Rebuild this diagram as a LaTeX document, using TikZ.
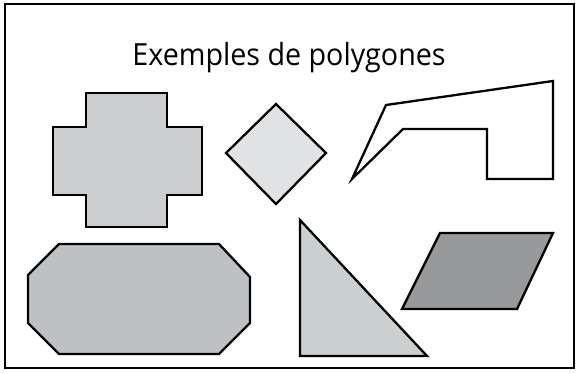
\documentclass[tikz,border=0pt]{standalone}
\usepackage{fontspec}
\setmainfont{Open Sans}

\definecolor{grisclair}{RGB}{224,226,227}
\definecolor{grismoyen}{RGB}{204,206,208}
\definecolor{grisoct}{RGB}{190,193,196}
\definecolor{gristri}{RGB}{202,207,207}
\definecolor{grisfonce}{RGB}{152,153,154}

\tikzset{
	poly/.style={draw=black,line width=2.3pt,line join=miter}
}

\begin{document}
\begin{tikzpicture}[x=1pt,y=-1pt]
	\useasboundingbox (0,0) rectangle (576,373);
	\draw[line width=2pt] (5,4) rectangle (574,368);

	\node[anchor=base,inner sep=0pt,xscale=0.94,font=\fontsize{30.5}{36}\selectfont] (titre) at (289,65) {Exemples de polygones};

	% croix
	\draw[poly,fill=grismoyen] (86,93) -- (167,93) -- (167,127) -- (202,127) -- (202,195) -- (167,195)
		-- (167,227) -- (86,227) -- (86,195) -- (53,195) -- (53,127) -- (86,127) -- cycle;
	% losange
	\draw[poly,fill=grisclair] (226,153) -- (276,104) -- (326,153) -- (276,204) -- cycle;
	% polygone non convexe
	\draw[poly] (352,179) -- (386,105) -- (553,81) -- (553,179) -- (487,179) -- (487,129) -- (403,129) -- cycle;
	% octogone
	\draw[poly,fill=grisoct] (28,275) -- (59,244) -- (219,244) -- (250,277) -- (250,323) -- (219,354)
		-- (59,354) -- (28,323) -- cycle;
	% triangle
	\draw[poly,fill=gristri] (300,220) -- (300,356) -- (427,356) -- cycle;
	% parallelogramme
	\draw[poly,fill=grisfonce] (440,233) -- (553,233) -- (517,309) -- (402,309) -- cycle;
\end{tikzpicture}
\end{document}
